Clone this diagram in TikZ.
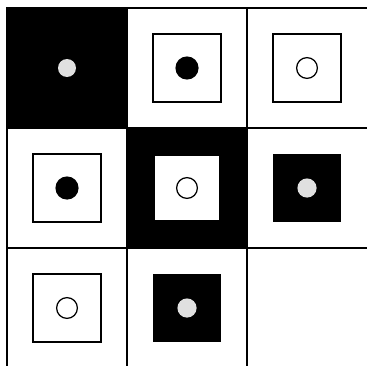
\documentclass[tikz,border=0pt]{standalone}
\usetikzlibrary{positioning}

\begin{document}
\begin{tikzpicture}[
    gridline/.style={line width=0.9pt},
    darkcell/.style={rectangle, fill=black, minimum size=3cm, inner sep=0pt, outer sep=0pt},
    boxframe/.style={rectangle, draw, line width=0.9pt, fill=white, minimum size=1.7cm, inner sep=0pt},
    boxdark/.style={rectangle, fill=black, minimum size=1.7cm, inner sep=0pt},
    boxwhite/.style={rectangle, fill=white, minimum size=1.62cm, inner sep=0pt},
    dotblack/.style={circle, fill=black, minimum size=0.58cm, inner sep=0pt},
    dotopen/.style={circle, draw, line width=0.9pt, minimum size=0.52cm, inner sep=0pt},
    dotlight/.style={circle, fill=black!12, minimum size=0.48cm, inner sep=0pt}
]
\useasboundingbox (-0.175,0.2) rectangle (9.0,-8.95);

% dark cells
\node[darkcell] (c11) at (1.5,-1.5) {};
\node[darkcell] (c22) at (4.5,-4.5) {};

% grid
\draw[gridline] (0,-8.95) -- (0,0) -- (9,0);
\draw[gridline] (0,-3) -- (9,-3);
\draw[gridline] (0,-6) -- (9,-6);
\draw[gridline] (3,0) -- (3,-8.95);
\draw[gridline] (6,0) -- (6,-8.95);

% row 1
\node[dotlight, minimum size=0.45cm] (d11) at (c11) {};
\node[boxframe] (b12) at (4.5,-1.5) {};
\node[dotblack] (d12) at (b12) {};
\node[boxframe] (b13) at (7.5,-1.5) {};
\node[dotopen] (d13) at (b13) {};

% row 2
\node[boxframe] (b21) at (1.5,-4.5) {};
\node[dotblack] (d21) at (b21) {};
\node[boxwhite] (b22) at (c22) {};
\node[dotopen] (d22) at (b22) {};
\node[boxdark] (b23) at (7.5,-4.5) {};
\node[dotlight] (d23) at (b23) {};

% row 3
\node[boxframe] (b31) at (1.5,-7.5) {};
\node[dotopen] (d31) at (b31) {};
\node[boxdark] (b32) at (4.5,-7.5) {};
\node[dotlight] (d32) at (b32) {};
\end{tikzpicture}
\end{document}
